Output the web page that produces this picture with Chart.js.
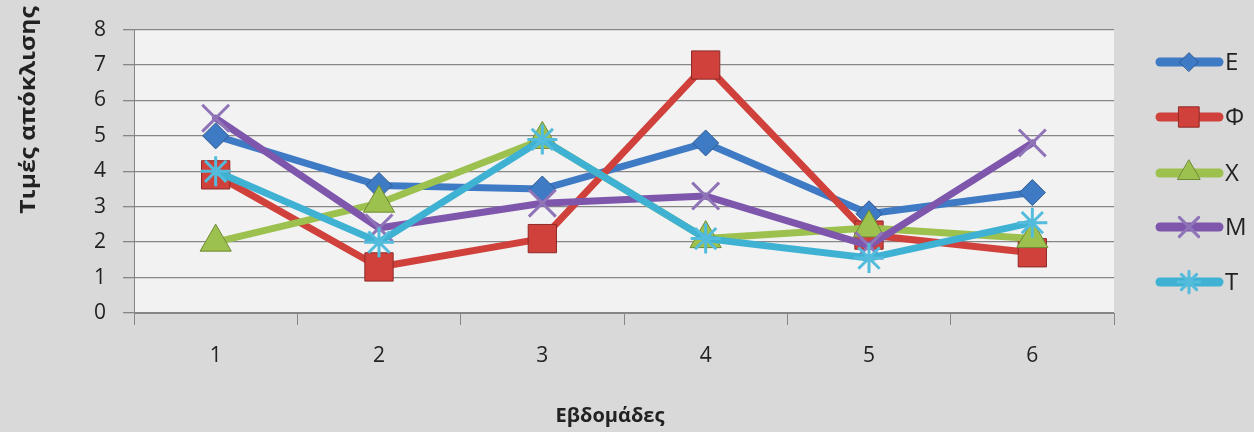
<!DOCTYPE html>
<html>
<head>
<meta charset="utf-8">
<script src="https://cdn.jsdelivr.net/npm/chart.js@4/dist/chart.umd.min.js"></script>
<style>
  html, body { margin: 0; padding: 0; background: #d9d9d9; }
  #wrap { width: 1254px; height: 432px; position: relative; }
</style>
</head>
<body>
<div id="wrap"><canvas id="c" width="1254" height="432"></canvas></div>
<script>
// Weeks on the x axis
const weeks = ['1', '2', '3', '4', '5', '6'];

// Deviation values per series
const seriesE   = [5.0, 3.6, 3.5, 4.8, 2.8, 3.4];
const seriesPhi = [3.9, 1.3, 2.1, 7.0, 2.2, 1.7];
const seriesX   = [2.0, 3.1, 4.9, 2.1, 2.4, 2.1];
const seriesM   = [5.5, 2.4, 3.1, 3.3, 1.9, 4.8];
const seriesT   = [4.0, 2.0, 4.9, 2.1, 1.55, 2.55];

const seriesNames = ['Ε', 'Φ', 'Χ', 'Μ', 'Τ'];

const yTitle = 'Τιμές απόκλισης';
const xTitle = 'Εβδομάδες';

const FONT = '"Open Sans", "Noto Sans", sans-serif';
const TEXT = '#222222';

function ds(label, data, color, dark, style, radius, bw, order) {
  return {
    label, data, order,
    borderColor: color,
    borderWidth: 7,
    tension: 0,
    pointStyle: style,
    pointRadius: radius,
    pointHoverRadius: radius,
    pointBackgroundColor: color,
    pointBorderColor: dark,
    pointBorderWidth: bw,
    borderCapStyle: 'round',
    borderJoinStyle: 'round'
  };
}

const datasets = [
  ds(seriesNames[0], seriesE,   '#3f7bc5', '#2c5a94', 'rectRot', 13, 1, 4),
  ds(seriesNames[1], seriesPhi, '#d0413c', '#8e2a27', 'rect', 20, 1, 3),
  ds(seriesNames[2], seriesX,   '#9dc14f', '#6e8a34', 'triangle', 18, 1, 2),
  ds(seriesNames[3], seriesM,   '#7e57ad', '#8f74b8', 'crossRot', 19, 3, 1),
  ds(seriesNames[4], seriesT,   '#3fb2d4', '#53bcdc', 'star', 15, 3, 0)
];

// Light plot-area fill behind the grid
const plotBg = {
  id: 'plotBg',
  beforeDraw(chart) {
    const { ctx, chartArea: a } = chart;
    ctx.save();
    ctx.fillStyle = '#f2f2f2';
    ctx.fillRect(a.left, a.top, a.right - a.left, a.bottom - a.top);
    ctx.restore();
  }
};

// Axis titles and the line-with-marker legend on the right
const extras = {
  id: 'extras',
  afterDraw(chart) {
    const ctx = chart.ctx;
    ctx.save();
    ctx.fillStyle = TEXT;
    ctx.font = 'bold 20px ' + FONT;
    ctx.textAlign = 'center';
    ctx.textBaseline = 'middle';
    ctx.fillText(xTitle, 610, 416);
    ctx.save();
    ctx.translate(29, 110);
    ctx.rotate(-Math.PI / 2);
    ctx.scale(1.12, 1);
    ctx.font = 'bold 22px ' + FONT;
    ctx.fillText(yTitle, 0, 0);
    ctx.restore();

    const ys = [62, 117, 173, 227, 282];
    datasets.forEach((d, i) => {
      const y = ys[i];
      ctx.strokeStyle = d.borderColor;
      ctx.lineWidth = 9;
      ctx.lineCap = 'round';
      ctx.beginPath();
      ctx.moveTo(1160, y);
      ctx.lineTo(1219, y);
      ctx.stroke();
      ctx.fillStyle = d.pointBackgroundColor;
      ctx.strokeStyle = d.pointBorderColor;
      ctx.lineWidth = d.pointBorderWidth;
      Chart.helpers.drawPoint(ctx, {
        pointStyle: d.pointStyle,
        radius: d.pointRadius * 0.72,
        rotation: 0,
        borderWidth: d.pointBorderWidth
      }, 1189, y);
      ctx.fillStyle = TEXT;
      ctx.font = '24px ' + FONT;
      ctx.textAlign = 'left';
      ctx.textBaseline = 'middle';
      ctx.fillText(d.label, 1225, y + 1);
    });
    ctx.restore();
  }
};

new Chart(document.getElementById('c'), {
  type: 'line',
  data: { labels: weeks, datasets },
  options: {
    responsive: false,
    animation: false,
    devicePixelRatio: 1,
    layout: { padding: { left: 0, right: 140, top: 29, bottom: 0 } },
    plugins: {
      legend: { display: false },
      tooltip: { enabled: false }
    },
    scales: {
      x: {
        offset: true,
        grid: {
          offset: true,
          drawOnChartArea: false,
          drawTicks: true,
          tickLength: 12,
          color: '#868686'
        },
        border: { display: true, color: '#868686', width: 1 },
        ticks: {
          padding: 18,
          color: TEXT,
          font: { family: FONT, size: 21 }
        },
        afterFit(s) { s.height = 119; }
      },
      y: {
        min: 0,
        max: 8,
        ticks: {
          stepSize: 1,
          padding: 17,
          color: TEXT,
          font: { family: FONT, size: 21 }
        },
        grid: {
          color: '#868686',
          lineWidth: 1.3,
          tickLength: 11
        },
        border: { display: true, color: '#868686', width: 1 },
        afterFit(s) { s.width = 134; }
      }
    }
  },
  plugins: [plotBg, extras]
});
</script>
</body>
</html>
